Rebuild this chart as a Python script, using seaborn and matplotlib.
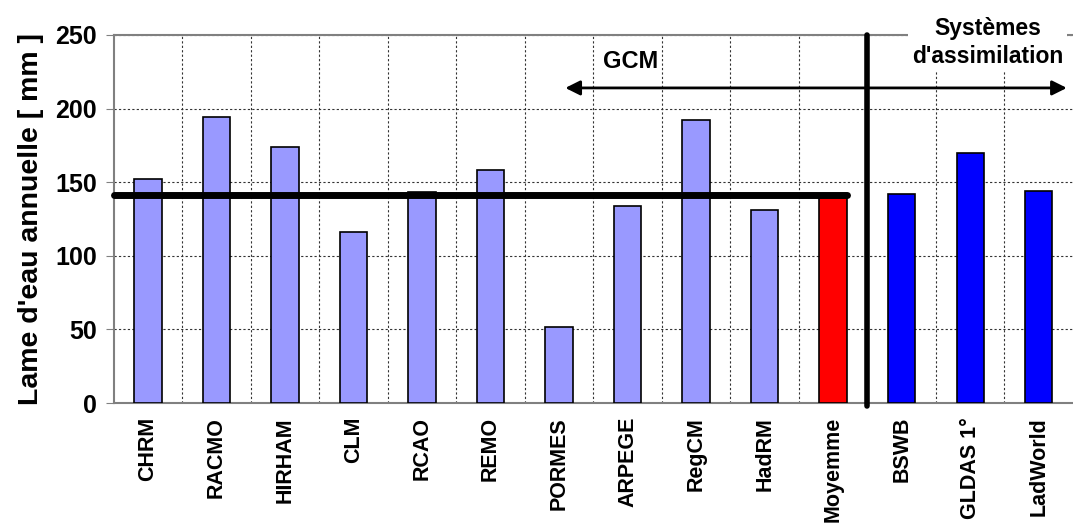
import numpy as np
import pandas as pd
import matplotlib
matplotlib.use("Agg")
import matplotlib.pyplot as plt
import seaborn as sns

# Model names and annual runoff depth [mm]
models = ["CHRM", "RACMO", "HIRHAM", "CLM", "RCAO", "REMO", "PORMES",
          "ARPEGE", "RegCM", "HadRM", "Moyemme", "BSWB", "GLDAS 1°", "LadWorld"]
values = [152, 194, 174, 116, 143, 158, 52, 134, 192, 131, 142, 142, 170, 144]
groups = ["rcm"] * 10 + ["mean"] + ["assim"] * 3
mean_level = 141.5

group_colors = {"rcm": "#9999FF", "mean": "#FF0000", "assim": "#0000FF"}

df = pd.DataFrame({"model": models, "value": values, "group": groups})

sns.set_style("white")
plt.rcParams["font.family"] = ["Liberation Sans", "DejaVu Sans"]
plt.rcParams["font.weight"] = "bold"
plt.rcParams["text.color"] = "black"
plt.rcParams["axes.labelcolor"] = "black"
plt.rcParams["xtick.color"] = "black"
plt.rcParams["ytick.color"] = "black"

fig = plt.figure(figsize=(10.73, 5.29), dpi=100)
ax = fig.add_axes([0.106, 0.238, 0.894, 0.696])

sns.barplot(data=df, x="model", y="value", hue="group", palette=group_colors,
            width=0.4, edgecolor="black", linewidth=1.2, legend=False,
            dodge=False, saturation=1, ax=ax, zorder=3)

n = len(models)
ax.set_xlim(-0.5, n - 0.5)
ax.set_ylim(0, 250)
ax.set_yticks([0, 50, 100, 150, 200, 250])
ax.set_yticklabels(["0", "50", "100", "150", "200", "250"], fontsize=18,
                   fontweight="bold")
ax.set_xticks(range(n))
ax.set_xticklabels(models, rotation=90, fontsize=15.5, fontweight="bold")
ax.set_xticks(np.arange(0.5, n - 0.5, 1), minor=True)
ax.tick_params(axis="x", which="major", length=0, pad=10)
ax.tick_params(axis="x", which="minor", length=6, color="#808080")
ax.tick_params(axis="y", length=6, color="#808080", left=True, pad=6)
ax.set_xlabel("")
ax.set_ylabel("Lame d'eau annuelle [ mm ]", fontsize=20.5, fontweight="bold",
              labelpad=8)

ax.grid(False)
ax.xaxis.grid(True, which="minor", linestyle=(0, (2, 2)), color="#333333",
              linewidth=0.8, zorder=0)
ax.yaxis.grid(True, which="major", linestyle=(0, (2, 2)), color="#333333",
              linewidth=0.8, zorder=0)
ax.set_axisbelow(True)

for side in ["left", "bottom", "top"]:
    ax.spines[side].set_color("#808080")
    ax.spines[side].set_linewidth(1.5)
ax.spines["right"].set_visible(False)

# mean line over the regional models
ax.plot([-0.5, 10.2], [mean_level, mean_level], color="black", linewidth=5,
        solid_capstyle="round", zorder=4, clip_on=False)

# separator between models and assimilation systems
ax.plot([10.5, 10.5], [-2, 250], color="black", linewidth=4, zorder=5,
        clip_on=False, solid_capstyle="round")

# double arrow
ax.annotate("", xy=(6.05, 214), xytext=(13.45, 214),
            arrowprops=dict(arrowstyle="<|-|>", color="black", linewidth=2,
                            mutation_scale=22), annotation_clip=False, zorder=5)
ax.text(7.05, 232, "GCM", fontsize=17, fontweight="bold", ha="center",
        va="center", zorder=6)
ax.text(12.25, 245, "Systèmes\nd'assimilation", fontsize=16.5,
        fontweight="bold", ha="center", va="center", linespacing=1.25,
        bbox=dict(facecolor="white", edgecolor="none", pad=3), zorder=6,
        clip_on=False)

fig.savefig("out.png", dpi=100)
